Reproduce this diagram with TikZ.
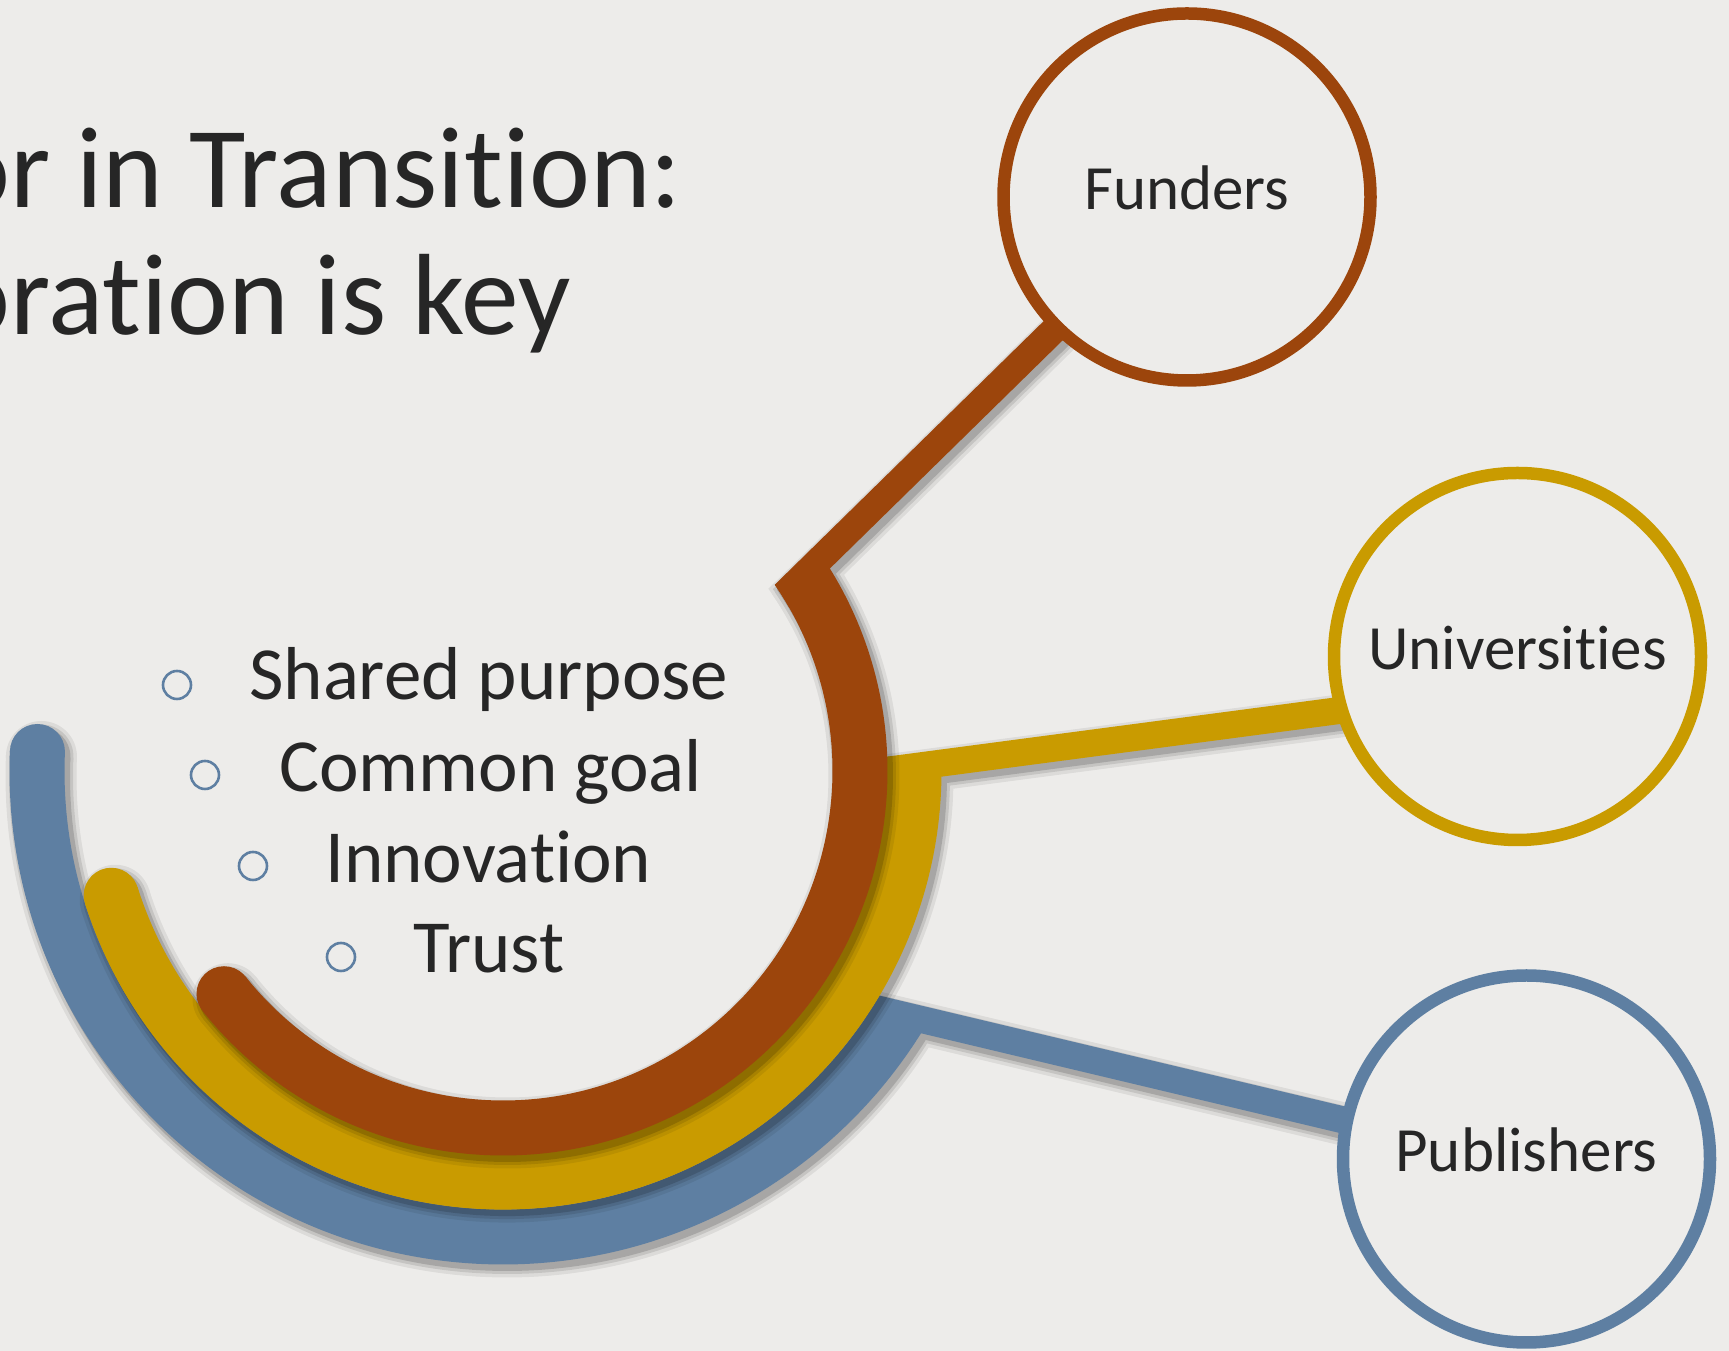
\documentclass[tikz,border=0pt]{standalone}
\usepackage{fontspec}
\setmainfont{Carlito}[Ligatures={NoCommon,NoContextual}]
\usetikzlibrary{calc}
\definecolor{bgc}{HTML}{EDECEA}
\definecolor{brn}{HTML}{9C450C}
\definecolor{ylw}{HTML}{C99B00}
\definecolor{blu}{HTML}{5E7FA2}
\definecolor{txt}{HTML}{262626}
\pgfdeclarelayer{bgl}
\pgfdeclarelayer{back}
\pgfsetlayers{bgl,back,main}
\newcommand\bandarc[5]{% color, radius, start, end, extra width
  \pgfmathsetmacro\wa{55+#5}\pgfmathsetmacro\wc{27.5+#5/2}%
  \draw[#1,line width=\wa pt,line cap=butt] ($(ctr)+(#3:#2)+(off)$) arc[start angle=#3,end angle=#4,radius=#2];
  \fill[#1] ($(ctr)+(#3:#2)+(off)$) circle[radius=\wc];
}
\newcommand\bandline[5]{% color, from, to, extra width, band radius
  \pgfmathsetmacro\wb{27+#4}\pgfmathsetmacro\rc{#5-27.5-#4/2}%
  \begin{scope}[even odd rule]
    \clip ($(off)+(-100,-100)$) rectangle ($(off)+(1829,1451)$)
      ($(ctr)+(off)$) circle[radius=\rc];
    \draw[#1,line width=\wb pt,line cap=butt] ($(#2)!-70pt!(#3)+(off)$) -- ($(#3)+(off)$);
  \end{scope}
}
\newcommand\fullband[7]{% color, radius, start, end, axis point, target, extra
  \bandarc{#1}{#2}{#3}{#4}{#7}
  \bandline{#1}{#5}{#6}{#7}{#2}
}
\newcommand\shadowband[6]{% radius, start, end, axis point, target, colour
  \coordinate (off) at (4,-5);
  \foreach \e/\o in {16/0.07,9/0.10,3/0.15}{
    \begin{scope}[transparency group,opacity=\o]
      \fullband{black}{#1}{#2}{#3}{#4}{#5}{\e}
    \end{scope}
  }
  \coordinate (off) at (0,0);
  \fullband{#6}{#1}{#2}{#3}{#4}{#5}{0}
}
\begin{document}
\begin{tikzpicture}[x=1pt,y=1pt,
  ring/.style={circle, draw=#1, line width=12.5pt, fill=bgc, minimum size=367pt,
    inner sep=0pt, outer sep=0pt, text height=26pt, text depth=0pt,
    font=\fontsize{63}{70}\selectfont, text=txt},
  bul/.style={circle, draw=blu, line width=2.6pt, minimum size=28pt, inner sep=0pt},
  item/.style={anchor=base west, inner sep=0pt, font=\fontsize{75}{80}\selectfont, text=txt},
  ttl/.style={anchor=base west, inner sep=0pt, font=\fontsize{115.5}{120}\selectfont, text=txt},
]
\useasboundingbox (0,0) rectangle (1729,1351);
\begin{pgfonlayer}{bgl}
  \fill[bgc] (0,0) rectangle (1729,1351);
\end{pgfonlayer}

% title (clipped at the left edge)
\begin{scope}
  \clip (0,0) rectangle (1729,1351);
  \node[ttl] (title1) at (-51,1143) {or in Transition:};
  \node[ttl] (title2) at (-51,1016) {oration is key};
\end{scope}

% stakeholder circles
\node[ring=brn] (fund) at (1187,1154) {Funders};
\node[ring=ylw] (univ) at (1517.5,694.5) {Universities};
\node[ring=blu] (pub) at (1526.5,192) {Publishers};

% bands
\coordinate (ctr) at (503,580);
\coordinate (bE) at ($(ctr)+(-31.5:466)$);
\coordinate (yE) at ($(ctr)+(0.6:411)$);
\coordinate (rE) at ($(ctr)+(33:357)$);
\coordinate (off) at (0,0);
\begin{pgfonlayer}{back}
  \shadowband{466}{177.6}{329.2}{bE}{pub.168}{blu}
  \shadowband{411}{197.6}{362.1}{yE}{univ.197}{ylw}
  \shadowband{357}{218.6}{394.4}{rE}{fund.225}{brn}
\end{pgfonlayer}

% bullet list
\node[bul] (b1) at (177,666) {};
\node[bul] (b2) at (205,576) {};
\node[bul] (b3) at (253,485) {};
\node[bul] (b4) at (341,394) {};
\node[item] (t1) at (249,651) {Shared purpose};
\node[item] (t2) at (279,559) {Common goal};
\node[item] (t3) at (325,468) {Innovation};
\node[item] (t4) at (413,378) {Trust};
\end{tikzpicture}
\end{document}
